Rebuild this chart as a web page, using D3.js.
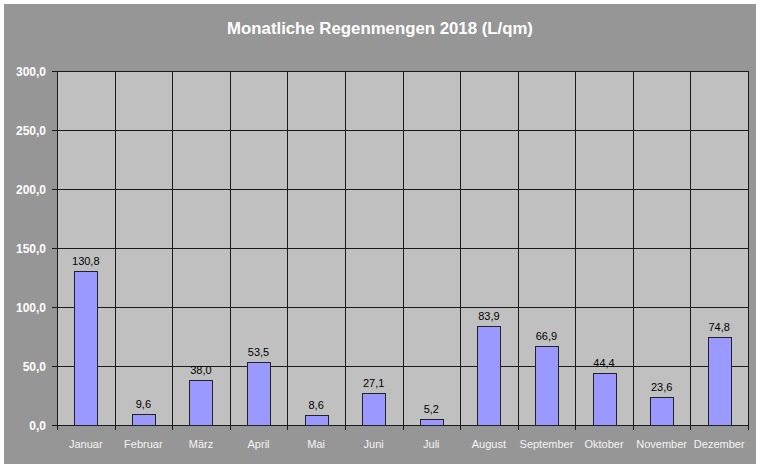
<!DOCTYPE html>
<html><head><meta charset="utf-8">
<script src="https://cdn.jsdelivr.net/npm/d3@7"></script>
<style>body{margin:0;background:#fff}svg{display:block}text{font-family:"Liberation Sans",Arial,sans-serif}</style>
</head><body>
<script>
const months = ["Januar","Februar","März","April","Mai","Juni","Juli","August","September","Oktober","November","Dezember"];
const rain = [130.8, 9.6, 38.0, 53.5, 8.6, 27.1, 5.2, 83.9, 66.9, 44.4, 23.6, 74.8];
const yTicks = [0, 50, 100, 150, 200, 250, 300];
const title = "Monatliche Regenmengen 2018 (L/qm)";

const W = 760, H = 468;
const m = {left: 57, right: 748, top: 71, bottom: 425};
const fmt = v => v.toFixed(1).replace(".", ",");

const svg = d3.select("body").append("svg").attr("width", W).attr("height", H);
svg.append("rect").attr("x", 4).attr("y", 4).attr("width", 752).attr("height", 460).attr("fill", "#969696");

svg.append("text").attr("x", 380).attr("y", 34).attr("text-anchor", "middle")
  .attr("fill", "#fff").attr("font-size", 16.8).attr("font-weight", "bold").text(title);

const x = d3.scaleBand().domain(months).range([m.left, m.right]).paddingInner(0).paddingOuter(0);
const y = d3.scaleLinear().domain([0, 300]).range([m.bottom, m.top]);

svg.append("rect").attr("x", m.left).attr("y", m.top).attr("width", m.right - m.left).attr("height", m.bottom - m.top).attr("fill", "#c0c0c0");

// horizontal grid
svg.append("g").selectAll("line").data(yTicks).join("line")
  .attr("x1", m.left - 5).attr("x2", m.right).attr("y1", d => y(d) + 0.5).attr("y2", d => y(d) + 0.5)
  .attr("stroke", "#1a1a1a").attr("stroke-width", 1);
// vertical grid at band boundaries
const bounds = months.map(d => x(d)).concat([m.right]);
svg.append("g").selectAll("line").data(bounds).join("line")
  .attr("x1", d => Math.round(d) + 0.5).attr("x2", d => Math.round(d) + 0.5)
  .attr("y1", m.top).attr("y2", m.bottom + 5)
  .attr("stroke", "#1a1a1a").attr("stroke-width", 1);

// y axis labels
svg.append("g").selectAll("text").data(yTicks).join("text")
  .attr("x", 46).attr("y", d => y(d) + 5).attr("text-anchor", "end")
  .attr("fill", "#fff").attr("font-size", 12).attr("font-weight", "bold").text(d => fmt(d));

// bars
const bw = x.bandwidth() * 0.4;
svg.append("g").selectAll("rect").data(rain).join("rect")
  .attr("x", (d, i) => Math.round(x(months[i]) + (x.bandwidth() - bw) / 2) + 0.5)
  .attr("y", d => Math.round(y(d)) + 0.5)
  .attr("width", Math.round(bw))
  .attr("height", d => Math.round(y(0)) - Math.round(y(d)))
  .attr("fill", "#9999ff").attr("stroke", "#222").attr("stroke-width", 1);

// value labels
svg.append("g").selectAll("text").data(rain).join("text")
  .attr("x", (d, i) => x(months[i]) + x.bandwidth() / 2)
  .attr("y", d => y(d) - 6).attr("text-anchor", "middle")
  .attr("fill", "#000").attr("font-size", 11).text(d => fmt(d));

// x labels
svg.append("g").selectAll("text").data(months).join("text")
  .attr("x", d => x(d) + x.bandwidth() / 2).attr("y", 448).attr("text-anchor", "middle")
  .attr("fill", "#f4f4f4").attr("font-size", 11).text(d => d);
</script>
</body></html>
